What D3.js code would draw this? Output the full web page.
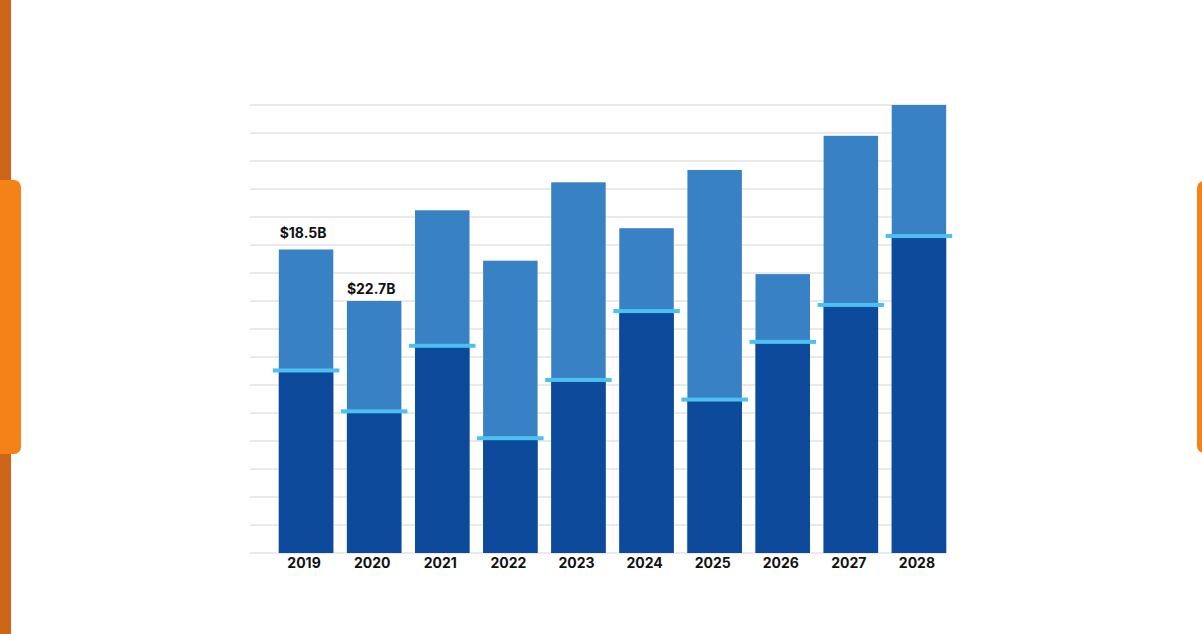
<!DOCTYPE html>
<html>
<head>
<meta charset="utf-8">
<script src="https://cdn.jsdelivr.net/npm/d3@7/dist/d3.min.js"></script>
<style>
  html, body { margin: 0; padding: 0; background: #ffffff; }
  svg { display: block; }
  text { font-family: Inter, "Open Sans", sans-serif; font-weight: 700; fill: #111111; }
</style>
</head>
<body>
<svg id="chart" width="1202" height="634"></svg>
<script>
// ---- data ----
const years = ["2019","2020","2021","2022","2023","2024","2025","2026","2027","2028"];
const totalValues = [54.2, 45.0, 61.2, 52.2, 66.2, 58.0, 68.4, 49.8, 74.5, 80.0];
const baseValues  = [32.6, 25.3, 37.0, 20.5, 30.9, 43.2, 27.4, 37.7, 44.3, 56.6];
const labelYears  = ["2019", "2020"];
const labelTexts  = ["$18.5B", "$22.7B"];
const gridTicks   = d3.range(0, 81, 5);

// ---- layout ----
const svg = d3.select("#chart");
const W = 1202, H = 634;
const plotBottom = 553, plotTop = 105;
const gridX0 = 250, gridX1 = 946;

// decorations
svg.append("rect").attr("x", 0).attr("y", 0).attr("width", 11).attr("height", H).attr("fill", "#cc6517");
svg.append("rect").attr("x", -10).attr("y", 180).attr("width", 31).attr("height", 274).attr("rx", 7).attr("fill", "#f58216");
svg.append("rect").attr("x", 1197).attr("y", 181).attr("width", 20).attr("height", 272).attr("rx", 7).attr("fill", "#f58216");

const x = d3.scaleBand().domain(years).range([272, 953]).paddingInner(0.2).paddingOuter(0.1);
const y = d3.scaleLinear().domain([0, 80]).range([plotBottom, plotTop]);

// gridlines
svg.append("g").selectAll("line").data(gridTicks).join("line")
  .attr("x1", gridX0).attr("x2", gridX1)
  .attr("y1", d => y(d)).attr("y2", d => y(d))
  .attr("stroke", "#e3e3e3").attr("stroke-width", 1.6);

const data = years.map((yr, i) => ({ year: yr, total: totalValues[i], base: baseValues[i] }));

// light (total) bars
svg.append("g").selectAll("rect").data(data).join("rect")
  .attr("x", d => x(d.year)).attr("width", x.bandwidth())
  .attr("y", d => y(d.total)).attr("height", d => y(0) - y(d.total))
  .attr("fill", "#3981c5");

// dark (base) bars
svg.append("g").selectAll("rect").data(data).join("rect")
  .attr("x", d => x(d.year)).attr("width", x.bandwidth())
  .attr("y", d => y(d.base)).attr("height", d => y(0) - y(d.base))
  .attr("fill", "#0d4a9b");

// marker lines
svg.append("g").selectAll("rect").data(data).join("rect")
  .attr("x", d => x(d.year) - 6).attr("width", x.bandwidth() + 12)
  .attr("y", d => y(d.base) - 2).attr("height", 4)
  .attr("fill", "#4cc0f0");

// x axis labels
const xAxis = d3.axisBottom(x).tickSize(0).tickPadding(0);
const gx = svg.append("g").attr("transform", `translate(-2,${plotBottom})`).call(xAxis);
gx.select(".domain").remove();
gx.selectAll("text").attr("dy", null).attr("y", 15).style("font-size", "14px")
  .style("font-family", "Inter, 'Open Sans', sans-serif").style("font-weight", 700).attr("fill", "#111");

// value labels
svg.append("g").selectAll("text").data(labelYears).join("text")
  .attr("x", (d) => x(d) + x.bandwidth() / 2 - 3)
  .attr("y", (d, i) => y(totalValues[years.indexOf(d)]) - (i === 0 ? 11 : 7))
  .attr("text-anchor", "middle")
  .style("font-size", "14px")
  .text((d, i) => labelTexts[i]);
</script>
</body>
</html>
